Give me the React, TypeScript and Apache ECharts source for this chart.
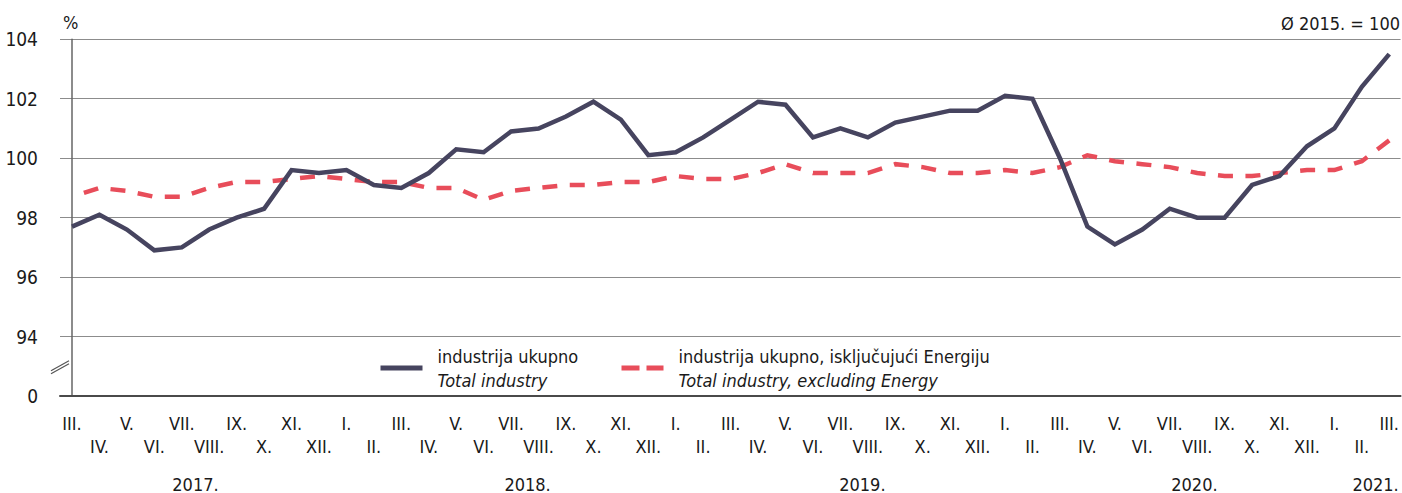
import React, { useEffect, useRef } from "react";
import * as echarts from "echarts";

const FONT = "'Liberation Sans Narrow', 'Arial Narrow', 'DejaVu Sans Condensed', 'Liberation Sans', sans-serif";

const months = [
  "III.", "IV.", "V.", "VI.", "VII.", "VIII.", "IX.", "X.", "XI.", "XII.",
  "I.", "II.", "III.", "IV.", "V.", "VI.", "VII.", "VIII.", "IX.", "X.", "XI.", "XII.",
  "I.", "II.", "III.", "IV.", "V.", "VI.", "VII.", "VIII.", "IX.", "X.", "XI.", "XII.",
  "I.", "II.", "III.", "IV.", "V.", "VI.", "VII.", "VIII.", "IX.", "X.", "XI.", "XII.",
  "I.", "II.", "III.",
];

const totalIndustry = [
  97.7, 98.1, 97.6, 96.9, 97.0, 97.6, 98.0, 98.3, 99.6, 99.5, 99.6, 99.1,
  99.0, 99.5, 100.3, 100.2, 100.9, 101.0, 101.4, 101.9, 101.3, 100.1, 100.2, 100.7,
  101.3, 101.9, 101.8, 100.7, 101.0, 100.7, 101.2, 101.4, 101.6, 101.6, 102.1, 102.0,
  100.0, 97.7, 97.1, 97.6, 98.3, 98.0, 98.0, 99.1, 99.4, 100.4, 101.0, 102.4, 103.5,
];

const excludingEnergy = [
  98.7, 99.0, 98.9, 98.7, 98.7, 99.0, 99.2, 99.2, 99.3, 99.4, 99.3, 99.2,
  99.2, 99.0, 99.0, 98.6, 98.9, 99.0, 99.1, 99.1, 99.2, 99.2, 99.4, 99.3,
  99.3, 99.5, 99.8, 99.5, 99.5, 99.5, 99.8, 99.7, 99.5, 99.5, 99.6, 99.5,
  99.7, 100.1, 99.9, 99.8, 99.7, 99.5, 99.4, 99.4, 99.5, 99.6, 99.6, 99.9, 100.6,
];

const years = ["2017.", "2018.", "2019.", "2020.", "2021."];
const yearLabelAt = [4.5, 16.6, 28.8, 40.9, 47.5];

const SERIES_HR = ["industrija ukupno", "industrija ukupno, isključujući Energiju"];
const SERIES_EN = ["Total industry", "Total industry, excluding Energy"];

const NAVY = "#46445f";
const RED = "#e84d5a";
const TEXT = "#1a1a1a";

export default function App() {
  const ref = useRef<HTMLDivElement>(null);

  useEffect(() => {
    if (!ref.current) return;
    const chart = echarts.init(ref.current, undefined, { renderer: "svg" });

    const legendFormatter = (name: string) => {
      const i = SERIES_HR.indexOf(name);
      return `{a|${name}}\n{b|${SERIES_EN[i]}}`;
    };
    const legendText = {
      fontFamily: FONT,
      color: TEXT,
      rich: {
        a: { fontFamily: FONT, fontSize: 18, lineHeight: 24, color: TEXT, padding: [0, 0, 0, 10] },
        b: { fontFamily: FONT, fontSize: 18, lineHeight: 24, color: TEXT, fontStyle: "italic", padding: [0, 0, 0, 10] },
      },
    };

    const monthValues = months.map((_, i) => i);

    const option: any = {
      animation: false,
      backgroundColor: "#ffffff",
      textStyle: { fontFamily: FONT },
      grid: { left: 60, right: 0, top: 39.3, bottom: 92.3, containLabel: false },
      xAxis: {
        type: "value",
        min: -0.4368,
        max: 48.411,
        axisLine: { show: true, lineStyle: { color: "#4a4a4a", width: 2 } },
        axisTick: { show: false },
        splitLine: { show: false },
        axisLabel: {
          customValues: [...monthValues, ...yearLabelAt],
          margin: 18,
          fontFamily: FONT,
          fontSize: 18,
          color: TEXT,
          formatter: (v: number) => {
            if (Number.isInteger(v)) {
              return v % 2 === 0 ? `{e|${months[v]}}` : `{o|${months[v]}}`;
            }
            const k = yearLabelAt.indexOf(v);
            return k >= 0 ? `{y|${years[k]}}` : "";
          },
          rich: {
            e: { fontFamily: FONT, fontSize: 18, color: TEXT },
            o: { fontFamily: FONT, fontSize: 18, color: TEXT, padding: [23, 0, 0, 0] },
            y: { fontFamily: FONT, fontSize: 18, color: TEXT, padding: [61, 0, 0, 0] },
          },
        },
      },
      yAxis: {
        type: "value",
        min: 92,
        max: 104,
        interval: 2,
        axisLine: { show: true, lineStyle: { color: "#666666", width: 1.5 } },
        axisTick: { show: false },
        splitLine: { show: true, lineStyle: { color: "#8c8c8c", width: 1 } },
        axisLabel: {
          margin: 22,
          fontFamily: FONT,
          fontSize: 19,
          color: TEXT,
          padding: [3, 0, 0, 0],
          formatter: (v: number) => (v === 92 ? "0" : String(v)),
        },
      },
      legend: [
        {
          data: [SERIES_HR[0]],
          left: 378,
          top: 347,
          padding: 0,
          itemWidth: 42,
          itemHeight: 14,
          selectedMode: false,
          itemStyle: { opacity: 0, borderWidth: 0 },
          lineStyle: { width: 5, opacity: 1 },
          formatter: legendFormatter,
          textStyle: legendText,
        },
        {
          data: [SERIES_HR[1]],
          left: 619,
          top: 347,
          padding: 0,
          itemWidth: 42,
          itemHeight: 14,
          selectedMode: false,
          itemStyle: { opacity: 0, borderWidth: 0 },
          lineStyle: { width: 5, opacity: 1, type: [18, 7], dashOffset: 0 },
          formatter: legendFormatter,
          textStyle: legendText,
        },
      ],
      series: [
        {
          name: SERIES_HR[1],
          type: "line",
          data: excludingEnergy.map((v, i) => [i, v]),
          symbol: "none",
          color: RED,
          lineStyle: { color: RED, width: 4.5, type: [15, 12.5], dashOffset: 15, join: "miter", cap: "butt" },
          z: 2,
        },
        {
          name: SERIES_HR[0],
          type: "line",
          data: totalIndustry.map((v, i) => [i, v]),
          symbol: "none",
          color: NAVY,
          lineStyle: { color: NAVY, width: 4.5, join: "miter", cap: "butt" },
          z: 3,
        },
      ],
    };

    chart.setOption(option);

    const y93 = chart.convertToPixel({ yAxisIndex: 0 }, 93) as number;
    const xAx = chart.convertToPixel({ xAxisIndex: 0 }, -0.4368) as number;

    chart.setOption({
      graphic: [
        {
          type: "polygon",
          shape: { points: [[xAx - 4, y93 + 3], [xAx + 4, y93 - 2], [xAx + 4, y93 + 1], [xAx - 4, y93 + 6]] },
          style: { fill: "#ffffff" },
          z: 100,
        },
        {
          type: "line",
          shape: { x1: xAx - 9, y1: y93 + 4.5, x2: xAx + 9, y2: y93 - 5.5 },
          style: { stroke: "#555555", lineWidth: 1.2 },
          z: 101,
        },
        {
          type: "line",
          shape: { x1: xAx - 9, y1: y93 + 7.5, x2: xAx + 9, y2: y93 - 2.5 },
          style: { stroke: "#555555", lineWidth: 1.2 },
          z: 101,
        },
        {
          type: "text",
          style: { text: "%", x: 63, y: 22, fontFamily: FONT, fontSize: 18, fill: TEXT, verticalAlign: "middle" },
        },
        {
          type: "text",
          style: { text: "Ø 2015. = 100", x: 1400, y: 23, fontFamily: FONT, fontSize: 18, fill: TEXT, align: "right", verticalAlign: "middle" },
        },
      ],
    });

    return () => chart.dispose();
  }, []);

  return (
    <div
      ref={ref}
      style={{ position: "absolute", left: 0, top: 0, width: 1402, height: 493, background: "#ffffff" }}
    />
  );
}
